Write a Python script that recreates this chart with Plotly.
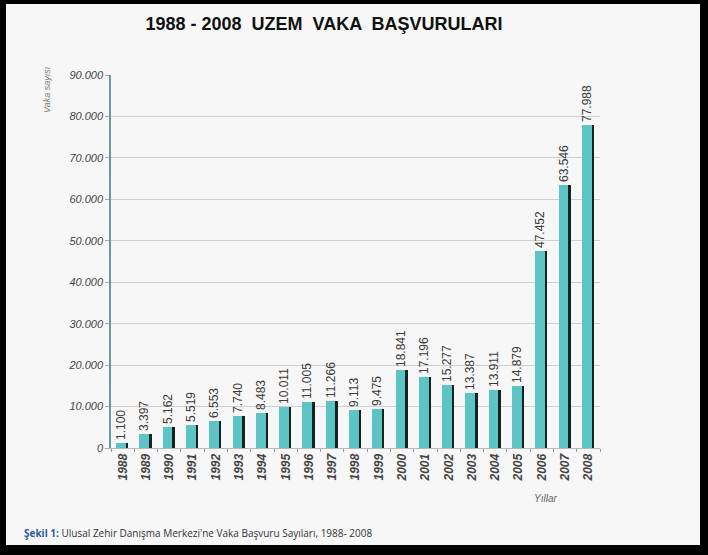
import plotly.graph_objects as go

# yearly case applications (UZEM)
years = [str(y) for y in range(1988, 2009)]
cases = [1100, 3397, 5162, 5519, 6553, 7740, 8483, 10011, 11005, 11266, 9113,
         9475, 18841, 17196, 15277, 13387, 13911, 14879, 47452, 63546, 77988]
y_ticks = [0, 10000, 20000, 30000, 40000, 50000, 60000, 70000, 80000, 90000]
y_tick_text = ["0", "10.000", "20.000", "30.000", "40.000", "50.000",
               "60.000", "70.000", "80.000", "90.000"]

labels = ["{:,}".format(v).replace(",", ".") for v in cases]

W, H = 708, 555
L, R, T, B = 111, 108, 75, 107
pw, ph = W - L - R, H - T - B


def px(x):
    return (x - L) / pw


def py(y):
    return (H - B - y) / ph


fig = go.Figure()

# dark "shadow" bar behind each column
fig.add_trace(go.Bar(x=years, y=cases, width=0.34, offset=-0.1,
                     marker=dict(color="#142222", line=dict(width=0)),
                     hoverinfo="skip", showlegend=False))
# teal column with value label
fig.add_trace(go.Bar(x=years, y=cases, width=0.42, offset=-0.28,
                     marker=dict(color="#5cc4c4", line=dict(width=0)),
                     text=labels, textposition="outside", textangle=-90,
                     constraintext="none", cliponaxis=False,
                     textfont=dict(family="Liberation Sans", size=12, color="#3a3a3a"),
                     showlegend=False))

fig.update_layout(
    width=W, height=H,
    margin=dict(l=L, r=R, t=T, b=B),
    paper_bgcolor="black",
    plot_bgcolor="#f7f7f7",
    barmode="overlay",
    bargap=0,
    title=dict(text="<b>1988 - 2008  UZEM  VAKA  BAŞVURULARI</b>",
               x=px(324), xref="paper", xanchor="center",
               y=1 - 24 / H, yanchor="middle",
               font=dict(family="Liberation Sans", size=18, color="#111111")),
    xaxis=dict(type="category", tickangle=-90,
               tickfont=dict(family="Liberation Sans", size=12, color="#444444", style="italic", weight="bold"),
               showline=True, linecolor="#b8b8b8", linewidth=1,
               ticks="outside", ticklen=3, tickcolor="#999999",
               tickson="boundaries", showgrid=False),
    yaxis=dict(range=[0, 90000], tickvals=y_ticks, ticktext=y_tick_text,
               tickfont=dict(family="Liberation Sans", size=11, color="#444444", style="italic"),
               showline=True, linecolor="#5f9f9a", linewidth=1.5,
               ticks="outside", ticklen=4, tickcolor="#aaaaaa",
               showgrid=True, gridcolor="#cfcfcf", gridwidth=1,
               zeroline=False),
    shapes=[dict(type="rect", xref="paper", yref="paper", layer="below",
                 x0=px(6), x1=px(700), y0=py(545), y1=py(4),
                 fillcolor="#f7f7f7", line=dict(width=0))],
    annotations=[
        dict(text="Vaka sayısı", xref="paper", yref="paper", x=px(47), y=py(90),
             textangle=-90, showarrow=False, xanchor="center", yanchor="middle",
             font=dict(family="Liberation Sans", size=9, color="#777777", style="italic")),
        dict(text="Yıllar", xref="paper", yref="paper", x=px(545), y=py(498),
             showarrow=False, xanchor="center", yanchor="middle",
             font=dict(family="Liberation Sans", size=10, color="#666666", style="italic")),
        dict(text="<b><span style='color:#2a5aa0'>Şekil 1:</span></b> Ulusal Zehir Danışma Merkezi'ne Vaka Başvuru Sayıları, 1988- 2008",
             xref="paper", yref="paper", x=px(22), y=py(533),
             showarrow=False, xanchor="left", yanchor="middle",
             font=dict(family="Open Sans", size=10, color="#333333")),
    ],
)

fig.write_html("out.html", config={"displayModeBar": False},
               post_script="document.body.style.margin='0';")
